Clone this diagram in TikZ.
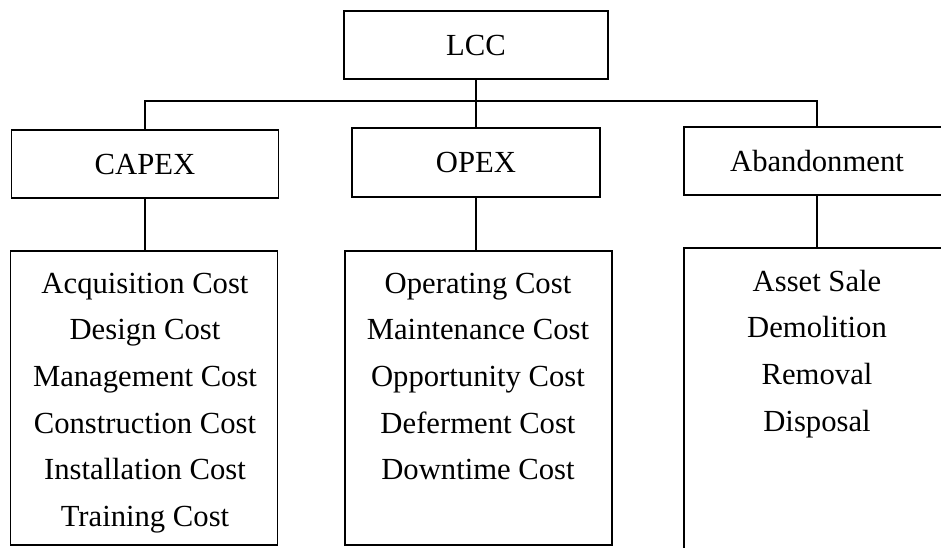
\documentclass[tikz,border=0pt]{standalone}
\usepackage{fontspec}
\setmainfont{Liberation Serif}
\begin{document}
\begin{tikzpicture}[x=0.75pt,y=-0.75pt,
  box/.style={draw, line width=1.1pt, inner sep=0pt},
  conn/.style={draw, line width=1.1pt},
  listtext/.style={anchor=base, inner sep=0pt},
  every node/.style={font=\fontsize{23}{35}\selectfont}]
\useasboundingbox (0,0) rectangle (941,547);
\clip (0,0) rectangle (941,547);
% top level
\node[box, minimum width=264*0.75pt, minimum height=68*0.75pt] (lcc) at (476,45) {LCC};
% second level
\node[box, minimum width=267*0.75pt, minimum height=68*0.75pt] (capex) at (145,164) {CAPEX};
\node[box, minimum width=248*0.75pt, minimum height=69*0.75pt] (opex) at (476,162.5) {OPEX};
\node[box, minimum width=266*0.75pt, minimum height=68*0.75pt] (aband) at (817,161) {Abandonment};
% lists
\node[box, minimum width=267*0.75pt, minimum height=294*0.75pt] (capexlist) at (144,398) {};
\node[box, minimum width=267*0.75pt, minimum height=294*0.75pt] (opexlist) at (478.5,398) {};
\node[box, minimum width=266*0.75pt, minimum height=312*0.75pt] (abandlist) at (817,404) {};
\node[listtext] (capextxt) at (145,293) {\begin{tabular}[t]{@{}c@{}}Acquisition Cost\\ Design Cost\\ Management Cost\\ Construction Cost\\ Installation Cost\\ Training Cost\end{tabular}};
\node[listtext] (opextxt) at (478,293) {\begin{tabular}[t]{@{}c@{}}Operating Cost\\ Maintenance Cost\\ Opportunity Cost\\ Deferment Cost\\ Downtime Cost\end{tabular}};
\node[listtext] (abandtxt) at (817,291) {\begin{tabular}[t]{@{}c@{}}Asset Sale\\ Demolition\\ Removal\\ Disposal\end{tabular}};
% connectors
\coordinate (hub) at (476,101);
\draw[conn] (lcc.south) -- (opex.north);
\draw[conn] (capex.north) |- (hub) -| (aband.north);
\draw[conn] (capex.south) -- (capex.south |- capexlist.north);
\draw[conn] (opex.south) -- (opex.south |- opexlist.north);
\draw[conn] (aband.south) -- (abandlist.north);
\end{tikzpicture}
\end{document}
